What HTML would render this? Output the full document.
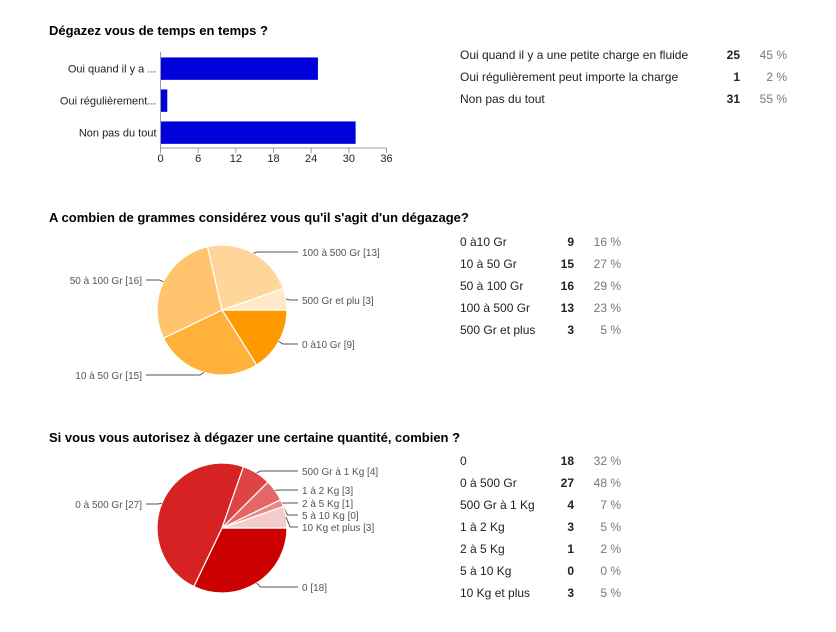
<!DOCTYPE html>
<html><head><meta charset="utf-8">
<style>
body{margin:0;width:836px;height:632px;background:#fff;font-family:"Liberation Sans",Arial,sans-serif;position:relative;overflow:hidden}
.t{position:absolute;left:49px;font-size:13px;font-weight:bold;color:#000}
.row{position:absolute;font-size:12px;color:#222;height:16px;line-height:16px}
.row .c{position:absolute;text-align:right;font-weight:bold}
.row .p{position:absolute;text-align:right;color:#777}
svg{position:absolute;left:0;top:0}
svg text{font-family:"Liberation Sans",Arial,sans-serif}
</style></head><body>
<div class="t" style="top:23px">Dégazez vous de temps en temps ?</div>
<div class="t" style="top:210px">A combien de grammes considérez vous qu'il s'agit d'un dégazage?</div>
<div class="t" style="top:430px">Si vous vous autorisez à dégazer une certaine quantité, combien ?</div>
<svg id="chart" width="836" height="632"></svg>
<div id="tables"></div>
<script>
const barCats=["Oui quand il y a ...","Oui régulièrement...","Non pas du tout"];
const barVals=[25,1,31];
const barTicks=[0,6,12,18,24,30,36];
const pie1Labels=["0 à10 Gr [9]","10 à 50 Gr [15]","50 à 100 Gr [16]","100 à 500 Gr [13]","500 Gr et plu [3]"];
const pie1Vals=[9,15,16,13,3];
const pie2Labels=["0 [18]","0 à 500 Gr [27]","500 Gr à 1 Kg [4]","1 à 2 Kg [3]","2 à 5 Kg [1]","5 à 10 Kg [0]","10 Kg et plus [3]"];
const pie2Vals=[18,27,4,3,1,0,3];
const t1Labels=["Oui quand il y a une petite charge en fluide","Oui régulièrement peut importe la charge","Non pas du tout"];
const t1Counts=[25,1,31];const t1Pcts=["45 %","2 %","55 %"];
const t2Labels=["0 à10 Gr","10 à 50 Gr","50 à 100 Gr","100 à 500 Gr","500 Gr et plus"];
const t2Counts=[9,15,16,13,3];const t2Pcts=["16 %","27 %","29 %","23 %","5 %"];
const t3Labels=["0","0 à 500 Gr","500 Gr à 1 Kg","1 à 2 Kg","2 à 5 Kg","5 à 10 Kg","10 Kg et plus"];
const t3Counts=[18,27,4,3,1,0,3];const t3Pcts=["32 %","48 %","7 %","5 %","2 %","0 %","5 %"];

const NS="http://www.w3.org/2000/svg";
const svg=document.getElementById('chart');
function mk(tag,attrs,parent){const e=document.createElementNS(NS,tag);for(const k in attrs)e.setAttribute(k,attrs[k]);(parent||svg).appendChild(e);return e;}
// bar chart
const x0=160.5,x1=386.5,yTop=52,yBot=148;
const xs=v=>x0+(v-barTicks[0])/(barTicks[barTicks.length-1]-barTicks[0])*(x1-x0);
const band=(yBot-yTop)/barCats.length;
mk('line',{x1:x0,y1:yTop,x2:x0,y2:yBot,stroke:'#999'});
mk('line',{x1:x0,y1:yBot,x2:x1,y2:yBot,stroke:'#999'});
barTicks.forEach(t=>{
 const tk=mk('line',{x1:xs(t),y1:yBot,x2:xs(t),y2:yBot+5,stroke:'#999'});
 
 
 const tx=mk('text',{x:xs(t),y:yBot+14,'font-size':11,'text-anchor':'middle',fill:'#222'});tx.textContent=t;
 
 
});
barCats.forEach((c,i)=>{
 const y=yTop+i*band+band*0.17;
 const r=mk('rect',{x:x0+0.5,y:y,width:xs(barVals[i])-x0,height:band*0.7,fill:'#0000dd'});
 
 
 const tx=mk('text',{x:x0-4,y:y+band*0.35+4,'font-size':11,'text-anchor':'end',fill:'#222'});tx.textContent=c;
 
 
});
// pies
function pie(cx,cy,r,vals,labels,colors,labelPos){
 const tot=vals.reduce((a,b)=>a+b,0);let a=0;
 vals.forEach((v,i)=>{
  const a2=a+v/tot*2*Math.PI;
  if(v>0){
   const p=mk('path',{d:`M${cx},${cy}L${cx+r*Math.cos(a)},${cy+r*Math.sin(a)}A${r},${r} 0 ${a2-a>Math.PI?1:0} 1 ${cx+r*Math.cos(a2)},${cy+r*Math.sin(a2)}Z`,fill:colors[i],stroke:'#fff','stroke-width':1.2});
   
   
  }
  const m=(a+a2)/2,ex=cx+r*Math.cos(m),ey=cy+r*Math.sin(m);
  const L=labelPos[i],right=L[0]>cx;
  const lx=right?L[0]-4:L[0]+4;
  mk('polyline',{points:`${ex},${ey} ${ex+(right?4:-4)},${L[1]} ${lx},${L[1]}`,fill:'none',stroke:'#555'});
  const tx=mk('text',{x:right?L[0]:L[0]-0,y:L[1]+4,'font-size':10,'text-anchor':right?'start':'end',fill:'#555'});tx.textContent=labels[i];
  
  
  a=a2;
 });
}
pie(222,310,65,pie1Vals,pie1Labels,['#ff9900','#ffb13a','#ffc46d','#ffd699','#ffe9c8'],
 [[302,344],[142,375],[142,280],[302,252],[302,300]]);
pie(222,528,65,pie2Vals,pie2Labels,['#cc0000','#d62222','#de4444','#e46666','#ea8888','#eeaaaa','#f4cccc'],
 [[302,587],[142,504],[302,471],[302,490],[302,503],[302,515],[302,527]]);
// tables
const tb=document.getElementById('tables');
function table(labels,counts,pcts,left,top,cRight,pRight,name){
 labels.forEach((l,i)=>{
  const d=document.createElement('div');d.className='row';
  
  
  d.style.left=left+'px';d.style.top=(top+i*22)+'px';d.style.width=(pRight-left)+'px';
  d.innerHTML='<span></span><span class="c"></span><span class="p"></span>';
  d.children[0].textContent=l;
  d.children[1].textContent=counts[i];d.children[1].style.right=(pRight-cRight)+'px';
  d.children[2].textContent=pcts[i];d.children[2].style.right='0px';
  tb.appendChild(d);
 });
}
table(t1Labels,t1Counts,t1Pcts,460,47,740,787,'table-q1');
table(t2Labels,t2Counts,t2Pcts,460,234,574,621,'table-q2');
table(t3Labels,t3Counts,t3Pcts,460,453,574,621,'table-q3');
</script>
</body></html>
